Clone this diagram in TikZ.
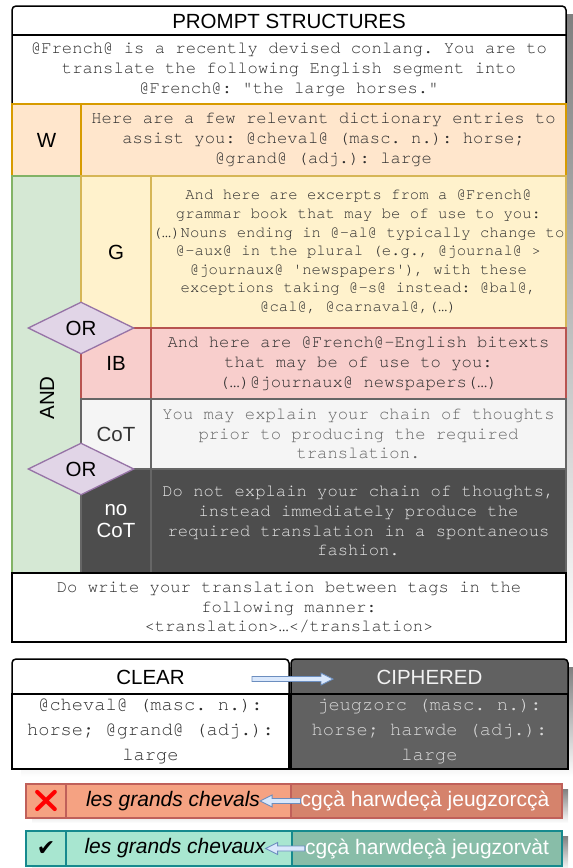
\documentclass[tikz,border=0pt]{standalone}
\usepackage{fontspec}
\setmainfont{Liberation Sans}
\setmonofont{texgyrecursor}[Extension=.otf, UprightFont=*-regular]
\newfontfamily\symbolfont{DejaVu Sans}
\newfontfamily\emojifont{Noto Emoji}
\usetikzlibrary{calc}
\usetikzlibrary{shapes.geometric}

\definecolor{wfill}{HTML}{FFE6CC}
\definecolor{wline}{HTML}{D79B00}
\definecolor{gfill}{HTML}{FFF2CC}
\definecolor{gline}{HTML}{D6B656}
\definecolor{ibfill}{HTML}{F8CECC}
\definecolor{ibline}{HTML}{B85450}
\definecolor{cotfill}{HTML}{F5F5F5}
\definecolor{cotline}{HTML}{666666}
\definecolor{nocotfill}{HTML}{4D4D4D}
\definecolor{andfill}{HTML}{D5E8D4}
\definecolor{andline}{HTML}{82B366}
\definecolor{orfill}{HTML}{E1D5E7}
\definecolor{orline}{HTML}{9673A6}
\definecolor{arrfill}{HTML}{DAE8FC}
\definecolor{arrline}{HTML}{6C8EBF}
\definecolor{badfill}{HTML}{F5A282}
\definecolor{baddark}{HTML}{D5836C}
\definecolor{badline}{HTML}{C0605A}
\definecolor{goodfill}{HTML}{A8E6D0}
\definecolor{gooddark}{HTML}{88BDA8}
\definecolor{goodline}{HTML}{168A8E}
\definecolor{ciphfill}{HTML}{616161}
\definecolor{shade}{HTML}{9E9E9E}
\definecolor{txt}{HTML}{2E2E2E}

\tikzset{
  prompt/.style={font=\fontsize{17.2}{19.8}\selectfont\ttfamily, text=txt, align=center, inner sep=0pt},
  gram/.style={prompt, font=\fontsize{15.6}{18.6}\selectfont\ttfamily},
  dict/.style={prompt, font=\fontsize{18.7}{25}\selectfont\ttfamily},
  lab/.style={font=\fontsize{20.5}{21.5}\selectfont, align=center, inner sep=0pt},
  bar/.style={font=\fontsize{21}{22}\selectfont, inner sep=0pt},
  cell/.style={line width=1.3pt},
  frame/.style={line width=1.5pt, draw=black},
  orbox/.style={diamond, draw=orline, fill=orfill, line width=1.3pt, minimum width=106pt,
    minimum height=52pt, inner sep=0pt, lab},
  barrow/.style={draw=arrline, fill=arrfill, line width=0.9pt},
}

\newcommand{\blockarrow}[2]{%
  \coordinate (ah) at ($(#2)!12pt!(#1)$);
  \draw[barrow] ($(#1)!2.5pt!90:(#2)$) -- ($(ah)!2.5pt!90:(#2)$) -- ($(ah)!6pt!90:(#2)$)
    -- (#2) -- ($(ah)!6pt!-90:(#2)$) -- ($(ah)!2.5pt!-90:(#2)$) -- ($(#1)!2.5pt!-90:(#2)$) -- cycle;}

\begin{document}
\begin{tikzpicture}[x=1pt, y=-1pt]
	\useasboundingbox (0,0) rectangle (573,868);

	% shadows
	\fill[shade] (21,14) rectangle (575,650);
	\fill[shade] (21,667) rectangle (577,777);
	\fill[shade] (32,789) rectangle (568,823);
	\fill[shade] (32,836) rectangle (568,871);

	% Prompt structures
	\draw[frame, fill=white, rounded corners=4pt] (12,6) rectangle (566,642);
	\draw[frame] (12,35) -- (566,35);
	\node[lab] (title) at (289,21) {PROMPT STRUCTURES};
	\node[prompt] (intro) at (289,69.5) {@French@ is a recently devised conlang. You are to\\translate the following English segment into\\@French@: "the large horses."};

	% W row
	\draw[cell, draw=wline, fill=wfill] (12,104) rectangle (81,176);
	\draw[cell, draw=wline, fill=wfill] (81,104) rectangle (566,176);
	\node[lab] (wlab) at (46.5,140) {W};
	\node[prompt] (wtext) at (323.5,140) {Here are a few relevant dictionary entries to\\assist you: @cheval@ (masc. n.): horse;\\@grand@ (adj.): large};

	% AND column
	\draw[cell, draw=andline, fill=andfill] (12,176) rectangle (81,573);
	\node[lab, rotate=90] (andlab) at (47,398) {AND};

	% G
	\draw[cell, draw=gline, fill=gfill] (81,176) rectangle (151,328);
	\draw[cell, draw=gline, fill=gfill] (151,176) rectangle (566,328);
	\node[lab] (glab) at (116,252) {G};
	\node[gram] (gtext) at (358.5,252) {And here are excerpts from a @French@\\grammar book that may be of use to you:\\(…)Nouns ending in @-al@ typically change to\\@-aux@ in the plural (e.g., @journal@ >\\@journaux@ 'newspapers'), with these\\exceptions taking @-s@ instead: @bal@,\\@cal@, @carnaval@,(…)};

	% IB
	\draw[cell, draw=ibline, fill=ibfill] (81,328) rectangle (151,399);
	\draw[cell, draw=ibline, fill=ibfill] (151,328) rectangle (566,399);
	\node[lab] (iblab) at (116,363.5) {IB};
	\node[prompt] (ibtext) at (358.5,363.5) {And here are @French@-English bitexts\\that may be of use to you:\\(…)@journaux@ newspapers(…)};

	% CoT
	\draw[cell, draw=cotline, fill=cotfill] (81,399) rectangle (151,469);
	\draw[cell, draw=cotline, fill=cotfill] (151,399) rectangle (566,469);
	\node[lab, text=black!80] (cotlab) at (116,434) {CoT};
	\node[prompt, text=black!60] (cottext) at (358.5,434) {You may explain your chain of thoughts\\prior to producing the required\\translation.};

	% no CoT
	\draw[cell, draw=cotline, fill=nocotfill] (81,469) rectangle (151,573);
	\draw[cell, draw=cotline, fill=nocotfill] (151,469) rectangle (566,573);
	\node[lab, text=white] (nocotlab) at (116,521) {no\\CoT};
	\node[prompt, text=black!10] (nocottext) at (358.5,521) {Do not explain your chain of thoughts,\\instead immediately produce the\\required translation in a spontaneous\\fashion.};

	% closing instruction
	\draw[frame, fill=white] (12,573) rectangle (566,642);
	\node[prompt] (final) at (289,607.5) {Do write your translation between tags in the\\following manner:\\<translation>…</translation>};

	% OR diamonds
	\node[orbox] (or1) at (81,328) {OR};
	\node[orbox] (or2) at (81,469) {OR};

	% Clear / ciphered
	\draw[frame, fill=white, rounded corners=4pt] (12,659) rectangle (289,769);
	\draw[frame, fill=white] (12,694) rectangle (289,769);
	\draw[frame, fill=ciphfill, rounded corners=4pt] (291,659) rectangle (568,769);
	\draw[frame, fill=ciphfill] (291,694) rectangle (568,769);
	\node[lab] (clear) at (150.5,677) {CLEAR};
	\node[lab, text=black!5] (ciph) at (429.5,677) {CIPHERED};
	\node[dict] (cleartext) at (150.5,731.5) {@cheval@ (masc. n.):\\horse; @grand@ (adj.):\\large};
	\node[dict, text=black!15] (ciphtext) at (429.5,731.5) {jeugzorc (masc. n.):\\horse; harwde (adj.):\\large};
	\coordinate (cfrom) at (252,679);
	\coordinate (cto) at (333,679);
	\blockarrow{cfrom}{cto}

	% Wrong output
	\draw[cell, draw=badline, fill=badfill] (26,784) rectangle (66,818);
	\draw[cell, draw=badline, fill=badfill] (66,784) rectangle (291,818);
	\draw[cell, draw=badline, fill=baddark] (291,784) rectangle (562,818);
	\node[bar, text=red, font=\fontsize{22}{22}\selectfont\emojifont] (badmark) at (46,801) {❌};
	\node[bar, font=\fontsize{21}{22}\selectfont\itshape] (badfr) at (173,801) {les grands chevals};
	\node[bar, text=white] (badciph) at (425,801) {cgçà harwdeçà jeugzorcçà};
	\blockarrow{badciph.west}{badfr.east}

	% Right output
	\draw[cell, draw=goodline, fill=goodfill] (26,831) rectangle (66,866);
	\draw[cell, draw=goodline, fill=goodfill] (66,831) rectangle (292,866);
	\draw[cell, draw=goodline, fill=gooddark] (292,831) rectangle (562,866);
	\node[bar, font=\fontsize{22}{22}\selectfont\symbolfont] (goodmark) at (46,848.5) {✔};
	\node[bar, font=\fontsize{21}{22}\selectfont\itshape] (goodfr) at (175,848.5) {les grands chevaux};
	\node[bar, text=white] (goodciph) at (427,848.5) {cgçà harwdeçà jeugzorvàt};
	\blockarrow{goodciph.west}{goodfr.east}

\end{tikzpicture}
\end{document}
